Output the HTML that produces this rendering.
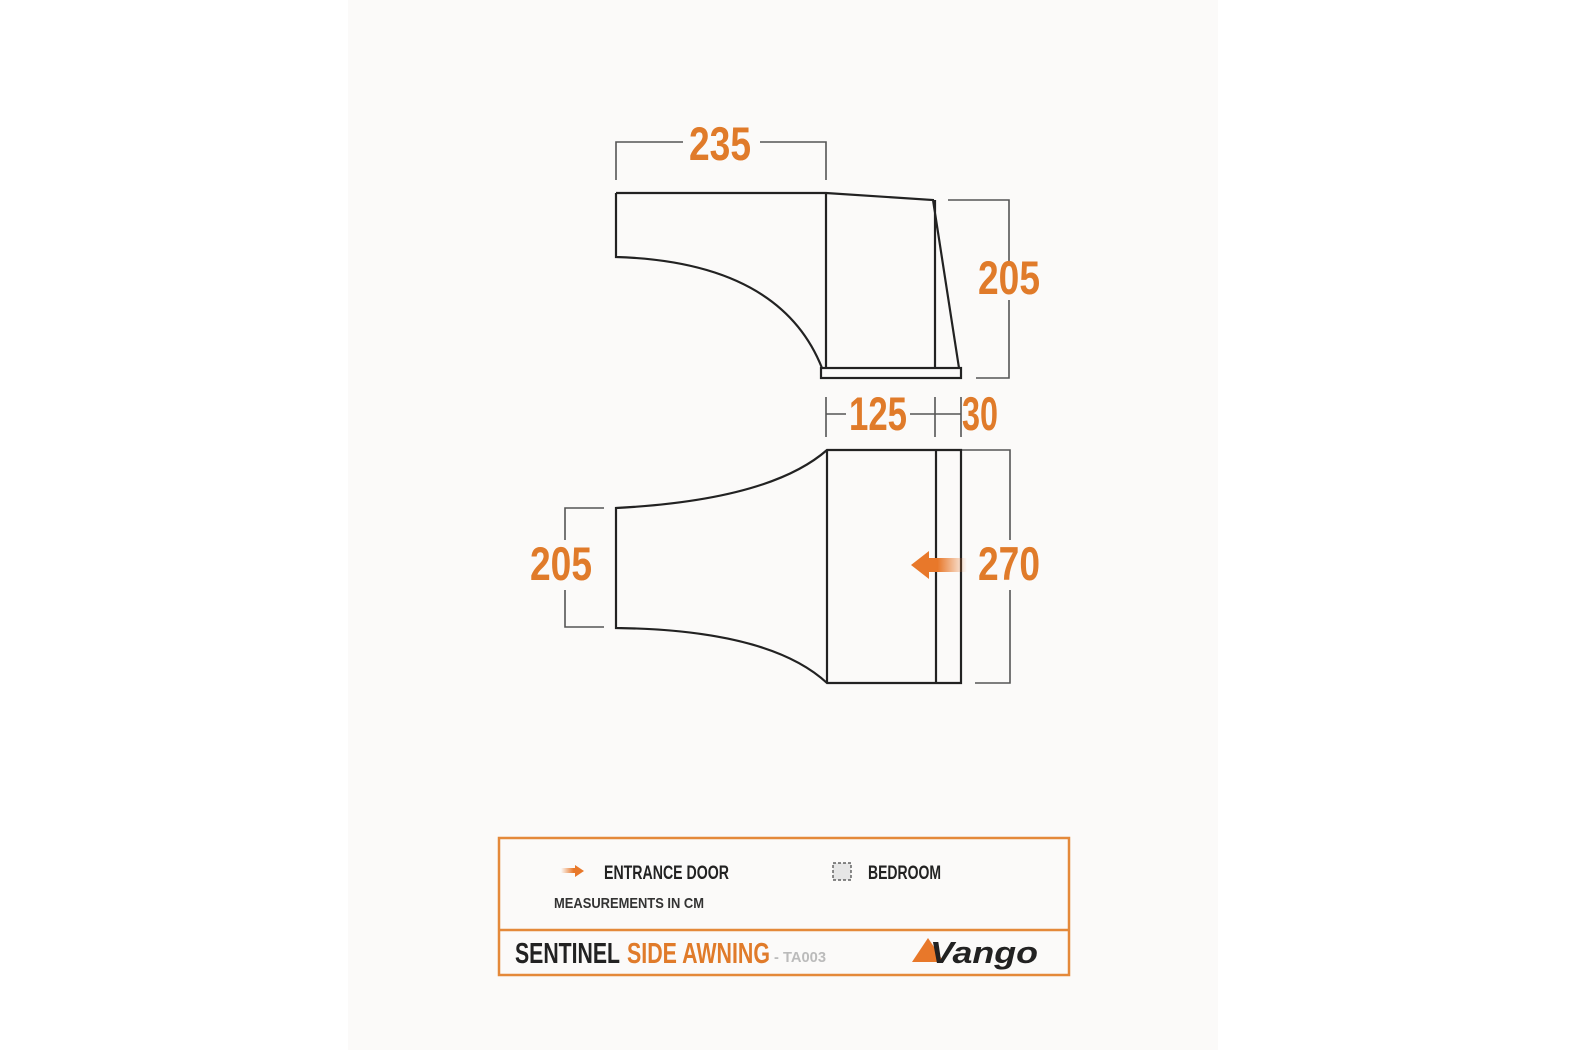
<!DOCTYPE html>
<html><head><meta charset="utf-8"><style>
html,body{margin:0;padding:0;background:#fff}
body{width:1575px;height:1050px;position:relative;overflow:hidden}
.panel{position:absolute;left:348px;top:0;width:870px;height:1050px;background:#fbfaf9}
svg{position:absolute;left:0;top:0}
text{font-family:"Liberation Sans Narrow","Liberation Sans",sans-serif;font-weight:bold}
</style></head><body>
<div class="panel"></div>
<svg width="1575" height="1050" viewBox="0 0 1575 1050">
<defs><linearGradient id="ag" x1="0" x2="1"><stop offset="0.3" stop-color="#e8782a"/><stop offset="1" stop-color="#e8782a" stop-opacity="0"/></linearGradient></defs>
<g fill="none" stroke="#555" stroke-width="1.6">
<!-- 235 dim -->
<path d="M616 180V142H683M760 142H826V180"/>
<!-- right 205 -->
<path d="M948 200H1009V262M1009 300V378H976"/>
<!-- 125/30 -->
<path d="M826 397V437M935 397V437M961 397V437M826 414H846M910 414H961"/>
<!-- right 270 -->
<path d="M948 450H1010V540M1010 590V683H975"/>
<!-- left 205 -->
<path d="M604 508H565V540M565 590V627H604"/>
</g>
<g fill="none" stroke="#222" stroke-width="2.2">
<path d="M616 193H826L933 200L959 368M616 193V257Q780 262 822 368M826 193V368M935 200V368"/>
<rect x="821" y="368" width="140" height="10"/>
<path d="M616 508Q770 500 827 450H961V683H827Q770 630 616 628Z"/>
<path d="M827 450V683M936 450V683"/>
</g>
<rect x="925" y="558" width="42" height="14" fill="url(#ag)"/>
<polygon points="911,565 929,551 929,579" fill="#e8782a"/>
<g fill="#e07b2a" font-size="47" text-anchor="middle">
<text x="720" y="160" textLength="62" lengthAdjust="spacingAndGlyphs">235</text>
<text x="1009" y="294" textLength="62" lengthAdjust="spacingAndGlyphs">205</text>
<text x="878" y="430" textLength="58" lengthAdjust="spacingAndGlyphs">125</text>
<text x="980" y="430" textLength="36" lengthAdjust="spacingAndGlyphs">30</text>
<text x="1009" y="580" textLength="62" lengthAdjust="spacingAndGlyphs">270</text>
<text x="561" y="580" textLength="62" lengthAdjust="spacingAndGlyphs">205</text>
</g>
<!-- legend -->
<rect x="499" y="838" width="570" height="137" fill="none" stroke="#e4893a" stroke-width="2.5"/>
<line x1="499" y1="930" x2="1069" y2="930" stroke="#e4893a" stroke-width="2.5"/>
<rect x="557" y="869" width="18" height="5" fill="url(#ag)" transform="rotate(180 568 871)"/>
<polygon points="584,871 575,865 575,877" fill="#e8782a"/>
<text x="604" y="879" font-size="19" fill="#222" textLength="125" lengthAdjust="spacingAndGlyphs">ENTRANCE DOOR</text>
<text x="554" y="908" font-size="15" fill="#333" font-weight="normal" textLength="150" lengthAdjust="spacingAndGlyphs">MEASUREMENTS IN CM</text>
<rect x="833" y="863" width="18" height="17" fill="#e6e6e6" stroke="#444" stroke-width="1.2" stroke-dasharray="3 2"/>
<text x="868" y="879" font-size="19" fill="#222" textLength="73" lengthAdjust="spacingAndGlyphs">BEDROOM</text>
<text x="515" y="963" font-size="29" fill="#222" textLength="105" lengthAdjust="spacingAndGlyphs">SENTINEL</text>
<text x="627" y="963" font-size="29" fill="#e07b2a" textLength="143" lengthAdjust="spacingAndGlyphs">SIDE AWNING</text>
<text x="774" y="962" font-size="15" fill="#bbb" font-weight="normal" textLength="52" lengthAdjust="spacingAndGlyphs">- TA003</text>
<polygon points="912,962 928,938 944,962" fill="#e8782a"/>
<text x="930" y="963" font-size="31" fill="#222" font-style="italic" font-family="Liberation Sans" textLength="108" lengthAdjust="spacingAndGlyphs">Vango</text>
</svg>
</body></html>
